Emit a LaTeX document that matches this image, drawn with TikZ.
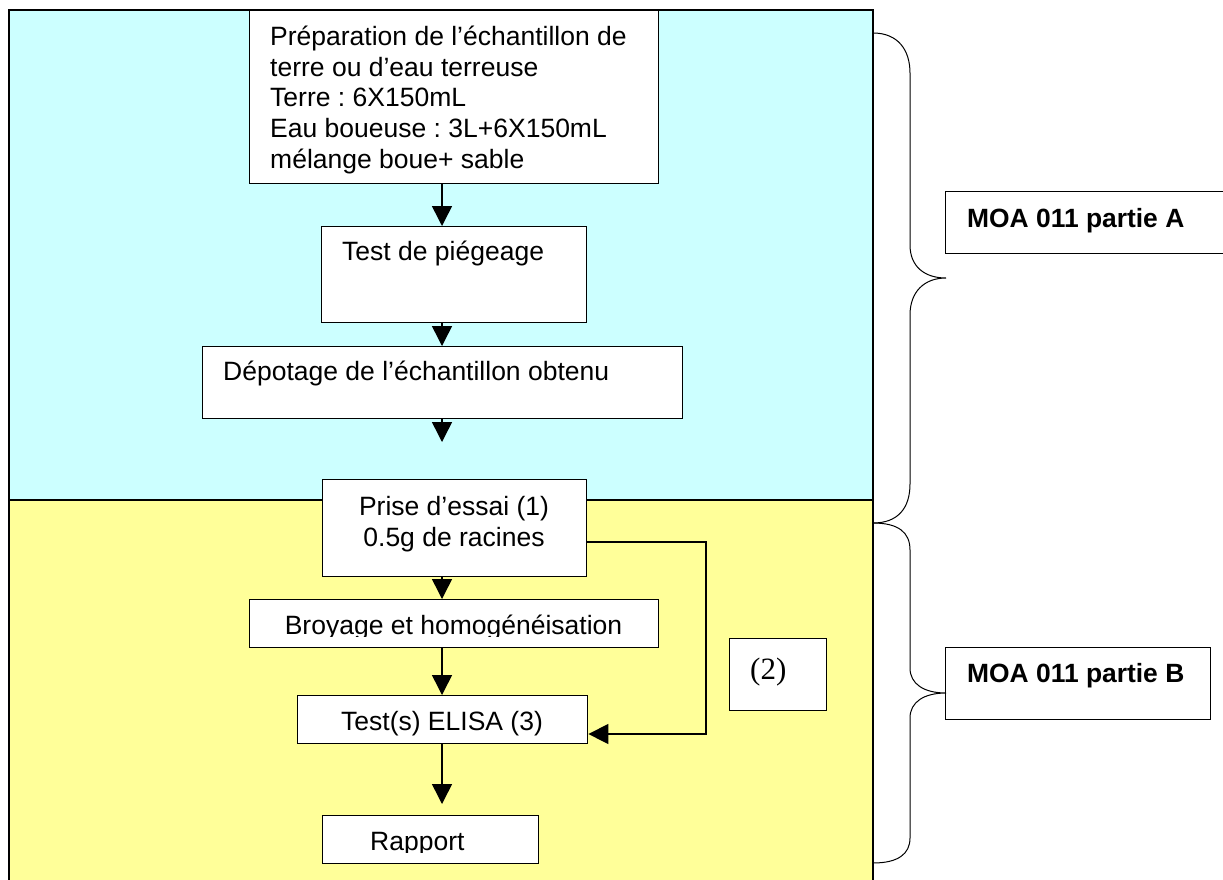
\documentclass[tikz,border=0pt]{standalone}
\usepackage{fontspec}
\setmainfont{Liberation Sans}
\newfontfamily\serifx{Liberation Serif}
\usetikzlibrary{arrows.meta}
\definecolor{cyanbg}{RGB}{204,255,255}
\definecolor{yellowbg}{RGB}{255,255,153}
\frenchspacing
\begin{document}
\begin{tikzpicture}[x=1pt,y=-1pt,
  box/.style={draw=black, line width=1.4pt, fill=white, anchor=north west, inner sep=0pt},
  txt/.style={inner sep=0pt, font=\fontsize{26.5}{30.8}\selectfont},
  btxt/.style={inner sep=0pt, font=\fontsize{26.4}{30.8}\selectfont\bfseries},
  arr/.style={line width=1.5pt, -{Triangle[length=20pt,width=20pt]}},
  brace/.style={line width=1pt}]
\useasboundingbox (0,0) rectangle (1223,879);
% panels
\fill[cyanbg] (9,10) rectangle (873,500);
\fill[yellowbg] (9,500) rectangle (873,900);
\draw[line width=1.5pt] (9,900) -- (9,10) -- (873,10) -- (873,900);
\draw[line width=1.5pt] (9,500) -- (873,500);
% boxes
\node[box, minimum width=409, minimum height=173] (b1) at (249,10) {};
\node[box, minimum width=265, minimum height=96] (b2) at (321,226) {};
\node[box, minimum width=480, minimum height=72] (b3) at (202,346) {};
\node[box, minimum width=264, minimum height=97] (b4) at (322,479) {};
\node[box, minimum width=409, minimum height=48] (b5) at (249,599) {};
\node[box, minimum width=290, minimum height=48] (b6) at (297,695) {};
\node[box, minimum width=216, minimum height=48] (b7) at (322,815) {};
\node[box, minimum width=97, minimum height=72] (bn) at (729,638) {};
\node[box, minimum width=290, minimum height=62] (bA) at (945,191) {};
\node[box, minimum width=265, minimum height=72] (bB) at (945,647) {};
% texts
\node[txt, anchor=north west, align=left] (t1) at (270,23.44)
  {\strut Préparation de l’échantillon de\\terre ou d’eau terreuse\\Terre : 6X150mL\\Eau boueuse : 3L+6X150mL\\mélange boue+ sable};
\node[txt, anchor=base west] (t2) at (342,260) {Test de piégeage};
\node[txt, anchor=base west] (t3) at (223,380) {Dépotage de l’échantillon obtenu};
\node[txt, anchor=north, align=center] (t4) at (454,493.9)
  {\strut Prise d’essai (1)\\0.5g de racines};
\begin{scope}
  \clip (249,599) rectangle (658,636);
  \node[txt, anchor=base] (t5) at (453.5,634) {Broyage et homogénéisation};
\end{scope}
\node[txt, anchor=base] (t6) at (442,730) {Test(s) ELISA (3)};
\begin{scope}
  \clip (322,815) rectangle (538,852);
  \node[txt, anchor=base west] (t7) at (370,850) {Rapport};
\end{scope}
\node[inner sep=0pt, anchor=base west, font=\serifx\fontsize{31}{36}\selectfont] (tn) at (750,679) {(2)};
\node[btxt, anchor=base west] (tA) at (967,227) {MOA 011 partie A};
\node[btxt, anchor=base west] (tB) at (967,682) {MOA 011 partie B};
% arrows
\coordinate (col) at (442,0);
\coordinate (e3) at (442,442);
\coordinate (e6) at (442,804);
\draw[arr] (b1.south -| col) -- (b2.north -| col);
\draw[arr] (b2.south -| col) -- (b3.north -| col);
\draw[arr] (b3.south -| col) -- (e3);
\draw[arr] (b4.south -| col) -- (b5.north -| col);
\draw[arr] (b5.south -| col) -- (b6.north -| col);
\draw[arr] (b6.south -| col) -- (e6);
\coordinate (k1) at (706,542);
\coordinate (k2) at (706,734);
\draw[arr] (b4.east |- k1) -- (k1) -- (k2) -- (b6.east |- k2);
% braces
\coordinate (pA) at (873,33);
\coordinate (tipA) at (946,278);
\coordinate (pM) at (873,523);
\coordinate (tipB) at (946,693);
\coordinate (pB) at (873,863);
\draw[brace] (pA) .. controls (898,33) and (910,50) .. (910,73) -- (910,245)
  .. controls (910,266) and (924,278) .. (tipA)
  .. controls (924,278) and (910,292) .. (910,315) -- (910,484)
  .. controls (910,508) and (898,523) .. (pM);
\draw[brace] (pM) .. controls (898,523) and (910,532) .. (910,550) -- (910,668)
  .. controls (910,684) and (924,693) .. (tipB)
  .. controls (924,693) and (910,702) .. (910,718) -- (910,838)
  .. controls (910,854) and (898,863) .. (pB);
\end{tikzpicture}
\end{document}
